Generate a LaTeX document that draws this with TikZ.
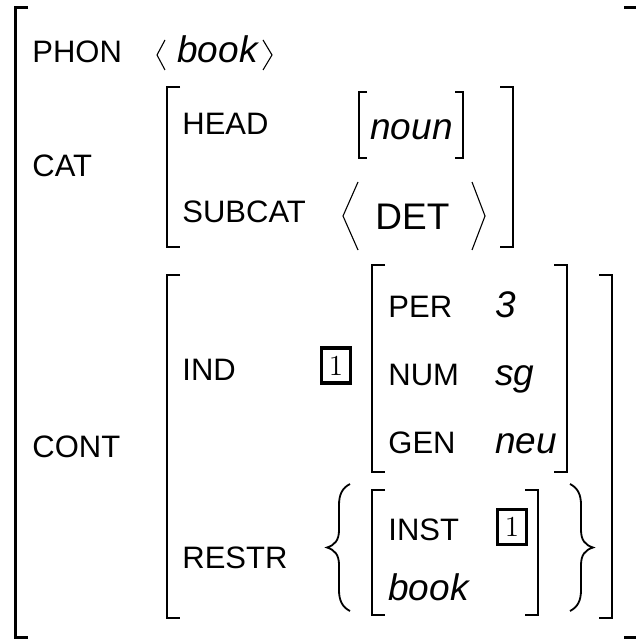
\documentclass[tikz,border=0pt]{standalone}
\usepackage{fontspec}
\setsansfont{Liberation Sans}
\usepackage{tikz}

\begin{document}
\begin{tikzpicture}[x=0.5pt, y=-0.5pt, line join=miter]
    % Styles
    \tikzstyle{attr} = [anchor=base west, inner sep=0pt, font=\sffamily\fontsize{15.5}{18}\selectfont]
    \tikzstyle{val} = [anchor=base west, inner sep=0pt, font=\sffamily\itshape\fontsize{18.5}{22}\selectfont]
    \tikzstyle{tagbox} = [draw, line width=1.7pt, inner sep=0pt, minimum width=14.5pt, minimum height=17.5pt, font=\rmfamily\fontsize{14.5}{16}\selectfont]
    \tikzstyle{outer} = [draw, line width=1.5pt]
    \tikzstyle{brk} = [draw, line width=1.2pt]
    \tikzstyle{fine} = [draw, line width=0.55pt]
    \tikzstyle{brace} = [draw, line width=0.9pt]

    \useasboundingbox (0,0) rectangle (635,640);

    % Outer matrix
    \path [outer] (28,8) -- (15,8) -- (15,637) -- (28,637);
    \path [outer] (624,8) -- (637,8) -- (637,637) -- (624,637);

    % PHON
    \node [attr] (phon) at (32,63) {PHON};
    \node [val] (phonval) at (177,63) {book};
    \path [fine] (165,40) -- (157,55) -- (165,70);
    \path [fine] (263,40) -- (272,55) -- (263,70);

    % CAT
    \node [attr] (cat) at (32,177) {CAT};
    \path [brk] (180,87) -- (167,87) -- (167,247) -- (180,247);
    \path [brk] (500,87) -- (513,87) -- (513,247) -- (500,247);
    \node [attr] (head) at (182,135) {HEAD};
    \path [fine] (367,92) -- (359,92) -- (359,158) -- (367,158);
    \path [fine] (455,92) -- (463,92) -- (463,158) -- (455,158);
    \node [val] (noun) at (370,140) {noun};
    \node [attr] (subcat) at (182,223) {SUBCAT};
    \path [fine] (358,182) -- (343,216) -- (358,250);
    \path [fine] (472,182) -- (485,216) -- (472,250);
    \node [val, font=\sffamily\fontsize{18.5}{22}\selectfont] (det) at (375,230) {DET};

    % CONT
    \node [attr] (cont) at (32,457) {CONT};
    \path [brk] (180,275) -- (167,275) -- (167,618) -- (180,618);
    \path [brk] (599,275) -- (612,275) -- (612,618) -- (599,618);

    % IND
    \node [attr] (ind) at (182,380) {IND};
    \node [tagbox] (tagind) at (336,365.5) {1};
    \path [brk] (385,265) -- (372,265) -- (372,472) -- (385,472);
    \path [brk] (554,265) -- (567,265) -- (567,472) -- (554,472);
    \node [attr] (per) at (388,317) {PER};
    \node [val] (perval) at (495,317) {3};
    \node [attr] (num) at (388,385) {NUM};
    \node [val] (numval) at (495,385) {sg};
    \node [attr] (gen) at (388,453) {GEN};
    \node [val] (genval) at (495,453) {neu};

    % RESTR
    \node [attr] (restr) at (182,568) {RESTR};
    \path [brace] (350,484) .. controls (342,488) and (339,495) .. (339,505) -- (339,530)
        .. controls (339,540) and (335,545) .. (327,547.5) .. controls (335,550) and (339,555) .. (339,565)
        -- (339,590) .. controls (339,600) and (342,607) .. (350,611);
    \path [brace] (570,484) .. controls (578,488) and (581,495) .. (581,505) -- (581,530)
        .. controls (581,540) and (585,545) .. (593,547.5) .. controls (585,550) and (581,555) .. (581,565)
        -- (581,590) .. controls (581,600) and (578,607) .. (570,611);
    \path [brk] (385,490) -- (372,490) -- (372,615) -- (385,615);
    \path [brk] (525,490) -- (538,490) -- (538,615) -- (525,615);
    \node [attr] (inst) at (388,540) {INST};
    \node [tagbox] (taginst) at (512,527) {1};
    \node [val] (restrval) at (388,600) {book};
\end{tikzpicture}
\end{document}
